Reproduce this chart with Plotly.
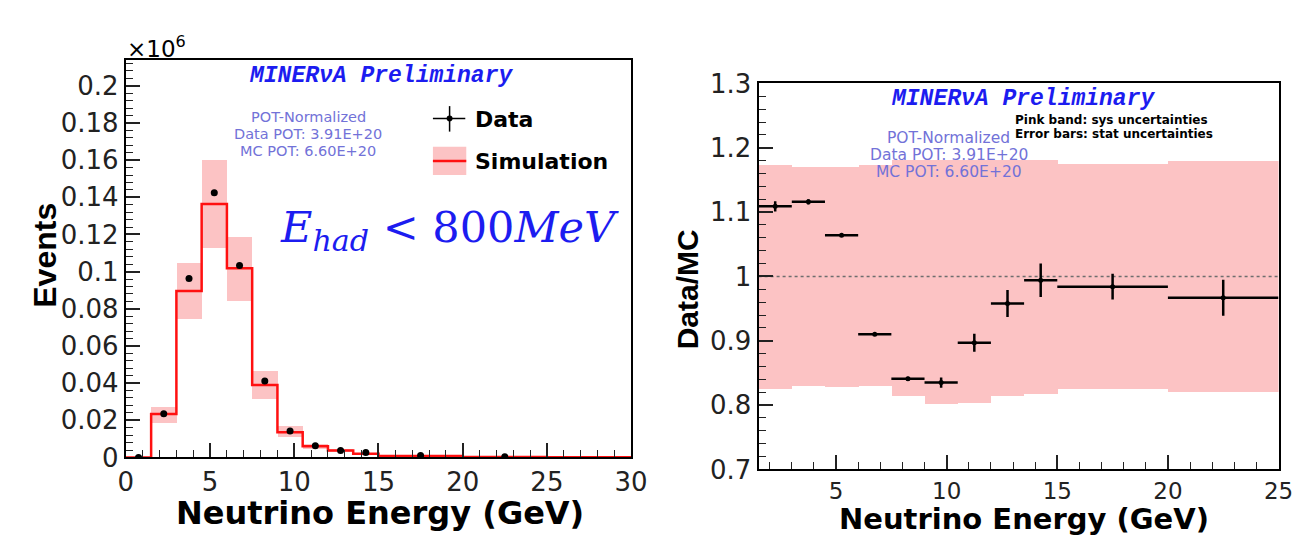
import plotly.graph_objects as go

# ---- data -----------------------------------------------------------------
bin_edges = [0, 1.5, 3, 4.5, 6, 7.5, 9, 10.5, 12, 13.5, 15, 20, 25, 30]
bin_centers = [0.75, 2.25, 3.75, 5.25, 6.75, 8.25, 9.75, 11.25, 12.75, 14.25, 17.5, 22.5, 27.5]
bin_widths = [1.5, 1.5, 1.5, 1.5, 1.5, 1.5, 1.5, 1.5, 1.5, 1.5, 5, 5, 5]

# events, in units of 1e6
mc_events = [0.0, 0.0234, 0.0896, 0.1364, 0.1018, 0.0390, 0.0136, 0.0060,
             0.0037, 0.0020, 0.0008, 0.0003, 0.0001]
mc_band_lo = [0.0, 0.0187, 0.0748, 0.1128, 0.0843, 0.0314, 0.0110, 0.0048,
              0.0030, 0.0016, 0.0006, 0.0002, 0.0001]
mc_band_hi = [0.0, 0.0271, 0.1050, 0.1600, 0.1190, 0.0467, 0.0170, 0.0073,
              0.0045, 0.0024, 0.0010, 0.0004, 0.0001]

data_x = [0.75, 2.25, 3.75, 5.25, 6.75, 8.25, 9.75, 11.25, 12.75, 14.25, 17.5, 22.5]
data_events = [0.0, 0.0235, 0.0963, 0.1425, 0.1033, 0.0412, 0.0142, 0.0063,
               0.0037, 0.0027, 0.0010, 0.0004]

# ratio panel
ratio_x = [2.25, 3.75, 5.25, 6.75, 8.25, 9.75, 11.25, 12.75, 14.25, 17.5, 22.5]
ratio_halfwidth = [0.75, 0.75, 0.75, 0.75, 0.75, 0.75, 0.75, 0.75, 0.75, 2.5, 2.5]
ratio = [1.109, 1.116, 1.064, 0.910, 0.841, 0.835, 0.897, 0.958, 0.994, 0.984, 0.967]
ratio_stat = [0.008, 0.004, 0.002, 0.002, 0.003, 0.008, 0.014, 0.021, 0.026, 0.020, 0.028]
sys_lo = [0.825, 0.829, 0.827, 0.829, 0.814, 0.801, 0.802, 0.813, 0.817, 0.825, 0.820]
sys_hi = [1.173, 1.169, 1.170, 1.172, 1.181, 1.181, 1.181, 1.181, 1.181, 1.174, 1.179]

pot_lines = ["POT-Normalized", "Data POT: 3.91E+20", "MC POT: 6.60E+20"]

PINK = "#fcc3c4"
RED = "#ff1010"
BLUE = "#1c1cf0"
LILAC = "#7272d8"
FONT = "DejaVu Sans"
W, H = 1315, 540


def px(x):
    return x / W


def py(y):
    return 1 - y / H


fig = go.Figure()

# ---- left: event distribution ----------------------------------------------
fig.add_trace(go.Bar(
    x=bin_centers, y=[h - l for h, l in zip(mc_band_hi, mc_band_lo)], base=mc_band_lo,
    width=bin_widths, marker=dict(color=PINK, line_width=0),
    xaxis="x", yaxis="y", showlegend=False, hoverinfo="skip",
))
fig.add_trace(go.Scatter(
    x=bin_edges, y=mc_events + [mc_events[-1]], mode="lines", line_shape="hv",
    line=dict(color=RED, width=2.5), xaxis="x", yaxis="y", showlegend=False,
))
fig.add_trace(go.Scatter(
    x=data_x, y=data_events, mode="markers",
    marker=dict(color="black", size=7), xaxis="x", yaxis="y", showlegend=False,
))

# ---- right: data / MC ratio ------------------------------------------------
fig.add_trace(go.Bar(
    x=ratio_x, y=[h - l for h, l in zip(sys_hi, sys_lo)], base=sys_lo,
    width=[2 * w for w in ratio_halfwidth], marker=dict(color=PINK, line_width=0),
    xaxis="x2", yaxis="y2", showlegend=False, hoverinfo="skip",
))
fig.add_trace(go.Scatter(
    x=[1.5, 25], y=[1, 1], mode="lines",
    line=dict(color="#6e6e6e", width=1.5, dash="3px,3px"),
    xaxis="x2", yaxis="y2", showlegend=False,
))
fig.add_trace(go.Scatter(
    x=ratio_x, y=ratio, mode="markers",
    marker=dict(color="black", size=5),
    error_x=dict(type="data", array=ratio_halfwidth, color="black", thickness=2.5, width=0),
    error_y=dict(type="data", array=ratio_stat, color="black", thickness=2.5, width=0),
    xaxis="x2", yaxis="y2", showlegend=False,
))

axis_common = dict(
    showline=True, mirror=True, linecolor="black", linewidth=2,
    showgrid=False, zeroline=False, ticks="inside", ticklen=14, tickwidth=1.5,
    tickcolor="#222", tickfont=dict(family=FONT, size=26, color="#222"),
    minor=dict(ticks="inside", ticklen=7, tickwidth=1.2, tickcolor="#222"),
)

fig.update_layout(
    width=W, height=H, margin=dict(l=0, r=0, t=0, b=0),
    paper_bgcolor="white", plot_bgcolor="white", barmode="overlay", bargap=0,
    xaxis=dict(axis_common, domain=[px(112), px(627)], range=[0, 30],
               dtick=5, minor_dtick=1, anchor="y"),
    yaxis=dict(axis_common, domain=[py(460), py(39)], range=[0, 0.214],
               dtick=0.02, minor_dtick=0.004, anchor="x"),
    xaxis2=dict(axis_common, domain=[px(757), px(1287)], range=[1.5, 25],
                dtick=5, tick0=0, minor_dtick=1, anchor="y2",
                tickfont=dict(family=FONT, size=23, color="#222")),
    yaxis2=dict(axis_common, domain=[py(472.7), py(64)], range=[0.7, 1.3],
                dtick=0.1, minor_dtick=0.02, anchor="x2"),
)

ann = []


def text(x, y, s, size, color="black", family=FONT, anchor="center", angle=0):
    ann.append(dict(x=px(x), y=py(y), xref="paper", yref="paper", text=s,
                    showarrow=False, xanchor=anchor, yanchor="middle",
                    textangle=angle, font=dict(family=family, size=size, color=color)))


# axis titles
text(371, 519, "<b>Neutrino Energy (GeV)</b>", 32)
text(1028, 525, "<b>Neutrino Energy (GeV)</b>", 29)
text(30, 246, "<b>Events</b>", 32, family="Liberation Sans", angle=-90)
text(684, 282, "<b>Data/MC</b>", 30, family="Liberation Sans", angle=-90)
text(111, 25, "×10<sup>6</sup>", 23, anchor="left")

# labels inside the panels
mono = "Liberation Mono"
text(372, 56, "<b><i>MINERνA Preliminary</i></b>", 23, BLUE, mono)
text(1027, 80, "<b><i>MINERνA Preliminary</i></b>", 23, BLUE, mono)
for i, s in enumerate(pot_lines):
    text(298, 100 + 17.5 * i, s, 14.5, LILAC)
    text(951, 122 + 18 * i, s, 15.5, LILAC)
text(1016, 103, "<b>Pink band: sys uncertainties</b>", 12, anchor="left")
text(1016, 117, "<b>Error bars: stat uncertainties</b>", 12, anchor="left")
text(442, 219, "<i>E</i><sub><i>had</i></sub> &lt; 800<i>MeV</i>", 43, BLUE,
     "DejaVu Serif")

# legend (left panel)
text(466, 102, "<b>Data</b>", 22, anchor="left")
text(466, 147, "<b>Simulation</b>", 22, anchor="left")
fig.update_layout(annotations=ann, shapes=[
    dict(type="line", xref="paper", yref="paper", x0=px(425), x1=px(458),
         y0=py(101), y1=py(101), line=dict(color="black", width=1.5)),
    dict(type="line", xref="paper", yref="paper", x0=px(442), x1=px(442),
         y0=py(88), y1=py(115), line=dict(color="black", width=1.5)),
    dict(type="circle", xref="paper", yref="paper", x0=px(439), x1=px(445),
         y0=py(98), y1=py(104), fillcolor="black", line_width=0),
    dict(type="rect", xref="paper", yref="paper", x0=px(425), x1=px(459),
         y0=py(161), y1=py(131), fillcolor=PINK, line_width=0),
    dict(type="line", xref="paper", yref="paper", x0=px(425), x1=px(459),
         y0=py(146), y1=py(146), line=dict(color=RED, width=2.5)),
])

fig.write_html("out.html")
